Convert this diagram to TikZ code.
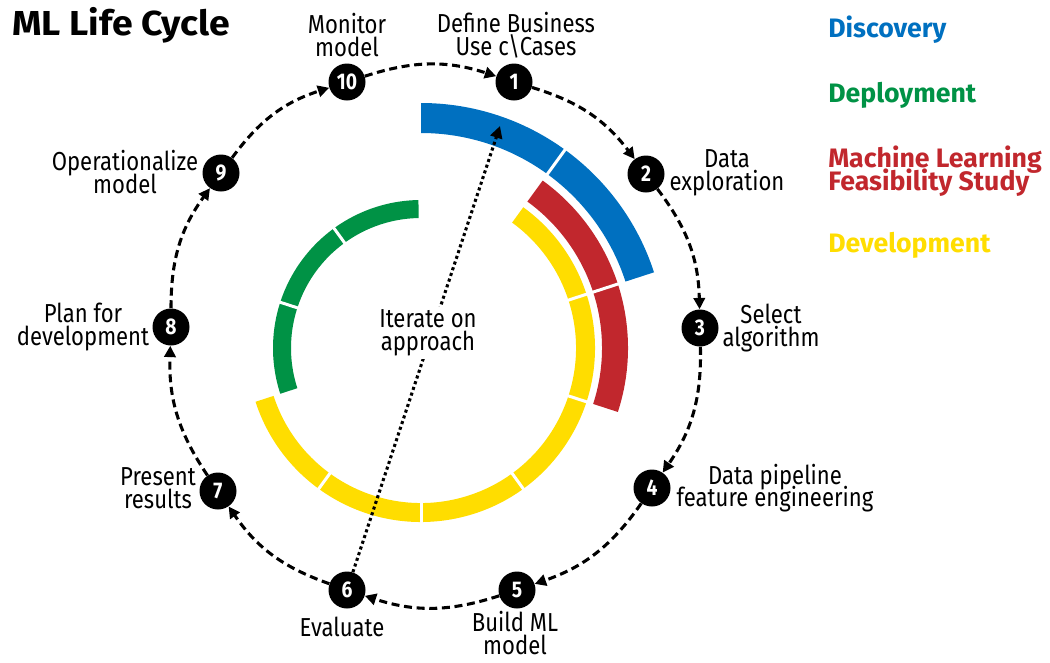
\documentclass[tikz,border=0pt]{standalone}
\usepackage{fontspec}
\setmainfont{Fira Sans}[FakeStretch=0.85]
\newfontfamily\legendfont{Fira Sans}
\newfontfamily\titlefont{Fira Sans}[FakeStretch=1.08]
\usetikzlibrary{arrows.meta}
\definecolor{cblue}{HTML}{0070C0}
\definecolor{cgreen}{HTML}{009245}
\definecolor{cred}{HTML}{C1272D}
\definecolor{cyellow}{HTML}{FFDD00}
\newcommand{\bandseg}[5]{\fill[#1] (#4:#3) arc[start angle=#4, end angle=#5, radius=#3] -- (#5:#2) arc[start angle=#5, end angle=#4, radius=#2] -- cycle;}
\newcommand{\bandsep}[3]{\draw[white, line width=2.25pt] (#1:#2) -- (#1:#3);}
\newcommand{\tightlines}{\lineskiplimit-100pt\relax}
\begin{document}
\begin{tikzpicture}[x=0.75pt,y=0.75pt,
  num/.style={circle, fill=black, text=white, minimum size=27.75pt, inner sep=0pt, font=\bfseries\fontsize{17}{17}\selectfont},
  lbl/.style={align=center, inner sep=0pt, font=\fontsize{19.5}{17}\selectfont\tightlines},
  flow/.style={-{Triangle[length=8.5pt,width=8.5pt]}, line width=2.3pt, dash pattern=on 6pt off 3.5pt},
  iter/.style={-{Triangle[length=9pt,width=9pt]}, line width=2.3pt, dash pattern=on 2.3pt off 2.2pt},
  legend/.style={anchor=base west, inner sep=0pt, font=\legendfont\bfseries\fontsize{20}{17.25}\selectfont\tightlines, align=left}]
\useasboundingbox (0,0) rectangle (1050,-662);
% phase bands
\begin{scope}[shift={(421,-348)}]
  \bandseg{cblue}{215}{245}{90}{18}
  \bandsep{54}{212}{248}
  \bandseg{cred}{181}{207}{54}{-18}
  \bandsep{18}{178}{210}
  \bandseg{cyellow}{155}{174}{54}{-162}
  \bandsep{18}{152}{177}
  \bandsep{-18}{152}{177}
  \bandsep{-54}{152}{177}
  \bandsep{-90}{152}{177}
  \bandsep{-126}{152}{177}
  \bandseg{cgreen}{130}{148}{91}{198}
  \bandsep{126}{127}{151}
  \bandsep{162}{127}{151}
\end{scope}
% title
\node[anchor=base west, inner sep=0pt, font=\titlefont\bfseries\fontsize{26}{26}\selectfont] (title) at (12,-35) {ML Life Cycle};
% legend
\node[legend, text=cblue] (lg1) at (828,-37) {Discovery};
\node[legend, text=cgreen] (lg2) at (828,-102) {Deployment};
\node[legend, text=cred] (lg3) at (828,-190) {Machine Learning\\Feasibility Study};
\node[legend, text=cyellow] (lg4) at (828,-252) {Development};
% step nodes
\node[num] (n1) at (514,-82) {1};
\node[num] (n2) at (646,-174) {2};
\node[num] (n3) at (700,-328) {3};
\node[num] (n4) at (652,-488) {4};
\node[num] (n5) at (517,-590) {5};
\node[num] (n6) at (347,-590) {6};
\node[num] (n7) at (218,-491) {7};
\node[num] (n8) at (171,-327) {8};
\node[num] (n9) at (221,-173) {9};
\node[num] (n10) at (347,-82) {10};
% iterate arrow
\coordinate (tip) at (500,-126);
\draw[iter] (n6) -- (tip);
\node[lbl, fill=white, inner sep=2pt] (it) at (428,-333) {Iterate on\\approach};
% cycle arrows
\draw[flow] (n1) to[bend left=18] (n2);
\draw[flow] (n2) to[bend left=18] (n3);
\draw[flow] (n3) to[bend left=18] (n4);
\draw[flow] (n4) to[bend left=18] (n5);
\draw[flow] (n5) to[bend left=18] (n6);
\draw[flow] (n6) to[bend left=18] (n7);
\draw[flow] (n7) to[bend left=18] (n8);
\draw[flow] (n8) to[bend left=18] (n9);
\draw[flow] (n9) to[bend left=18] (n10);
\draw[flow] (n10) to[bend left=18] (n1);
% labels
\node[lbl] (l1) at (516,-35) {Define Business\\Use c\textbackslash Cases};
\node[lbl] (l2) at (727,-173) {Data\\exploration};
\node[lbl] (l3) at (771,-328) {Select\\algorithm};
\node[lbl] (l4) at (775,-488) {Data pipeline\\feature engineering};
\node[lbl] (l5) at (515,-633) {Build ML\\model};
\node[lbl] (l6) at (342,-627) {Evaluate};
\node[lbl] (l7) at (158,-488) {Present\\results};
\node[lbl] (l8) at (83,-327) {Plan for\\development};
\node[lbl] (l9) at (125,-172) {Operationalize\\model};
\node[lbl] (l10) at (347,-35) {Monitor\\model};
\end{tikzpicture}
\end{document}
